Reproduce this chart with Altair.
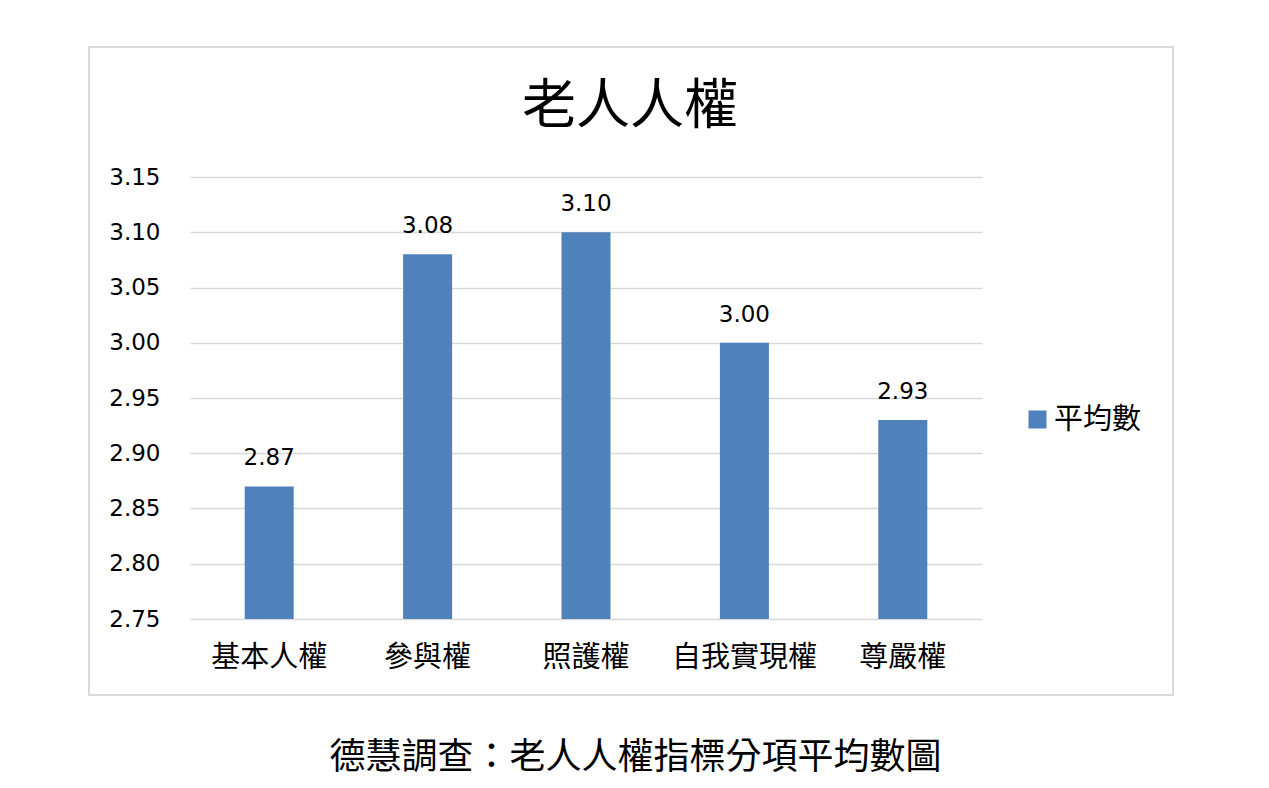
import altair as alt
import pandas as pd

categories = ["基本人權", "參與權", "照護權", "自我實現權", "尊嚴權"]
values = [2.87, 3.08, 3.10, 3.00, 2.93]
series_name = "平均數"
y_ticks = [2.75, 2.80, 2.85, 2.90, 2.95, 3.00, 3.05, 3.10, 3.15]
chart_title = "老人人權"
caption = "德慧調查：老人人權指標分項平均數圖"

df = pd.DataFrame({"cat": categories, "val": values, "series": [series_name] * len(categories)})

CJK = "Noto Sans CJK TC"
NUM = "DejaVu Sans"
BLUE = "#4F81BD"
GRID = "#D9D9D9"

x_enc = alt.X(
    "cat:N",
    sort=categories,
    scale=alt.Scale(paddingInner=0.69, paddingOuter=0.345),
    axis=alt.Axis(
        title=caption,
        titleFont=CJK,
        titleFontSize=36,
        titleFontWeight="normal",
        titleColor="#000000",
        titleX=445,
        titleY=138,
        titleAlign="center",
        titleBaseline="middle",
        labelFont=CJK,
        labelFontSize=29,
        labelColor="#000000",
        labelAngle=0,
        labelPadding=24,
        ticks=False,
        domain=False,
        grid=False,
    ),
)

y_enc = alt.Y(
    "val:Q",
    scale=alt.Scale(domain=[2.75, 3.15], zero=False, nice=False),
    axis=alt.Axis(
        title=None,
        values=y_ticks,
        format=".2f",
        labelFont=NUM,
        labelFontSize=23,
        labelColor="#000000",
        labelPadding=30,
        ticks=False,
        domain=False,
        grid=True,
        gridColor=GRID,
        gridWidth=1.6,
    ),
)

bars = alt.Chart(df).mark_bar(size=49, clip=True).encode(
    x=x_enc,
    y=y_enc,
    color=alt.Color(
        "series:N",
        scale=alt.Scale(domain=[series_name], range=[BLUE]),
        legend=alt.Legend(
            title=None,
            orient="none",
            legendX=833,
            legendY=228,
            symbolType="square",
            symbolSize=324,
            symbolStrokeWidth=0,
            labelFont=CJK,
            labelFontSize=29,
            labelColor="#000000",
            labelOffset=2,
        ),
    ),
)

labels = alt.Chart(df).mark_text(
    dy=-21, baseline="alphabetic", align="center", font=NUM, fontSize=23, color="#000000"
).encode(
    x=alt.X("cat:N", sort=categories),
    y="val:Q",
    text=alt.Text("val:Q", format=".2f"),
)

single = pd.DataFrame({"t": [chart_title]})

frame = alt.Chart(single).mark_rect(
    filled=False, stroke=GRID, strokeWidth=2
).encode(
    x=alt.value(-101), x2=alt.value(983), y=alt.value(-130), y2=alt.value(518)
)

title_text = alt.Chart(single).mark_text(
    font=CJK, fontSize=54, fontWeight="normal", color="#000000",
    align="center", baseline="middle",
).encode(
    x=alt.value(440), y=alt.value(-69), text="t:N"
)

chart = alt.layer(frame, bars, labels, title_text).properties(
    width=792,
    height=442,
    autosize="none",
    padding={"left": 182, "top": 169, "right": 279, "bottom": 161},
    background="white",
).configure_view(stroke=None)

chart.save("out.html", embed_options={"renderer": "svg", "actions": False})
